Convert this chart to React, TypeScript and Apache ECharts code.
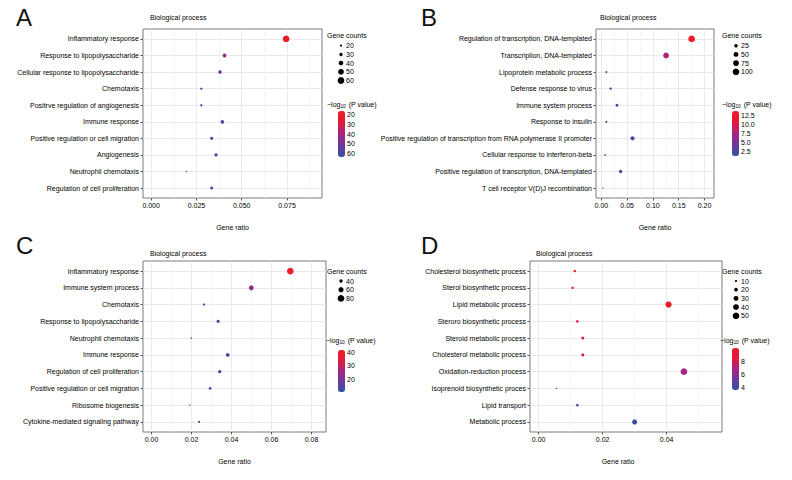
import React, { useEffect, useRef } from 'react';
import * as echarts from 'echarts';

// ---------------- data ----------------
const catsA = [
  'Inflammatory response',
  'Response to lipopolysaccharide',
  'Cellular response to lipopolysaccharide',
  'Chemotaxis',
  'Positrve regulation of angiogenesis',
  'Immune response',
  'Positive regulation or cell migration',
  'Angiogenesis',
  'Neutrophil chemotaxis',
  'Regulation of cell proliferation',
];
const ratioA = [0.0745, 0.0405, 0.038, 0.0277, 0.0277, 0.0393, 0.0334, 0.0358, 0.0194, 0.0334];
const countA = [60, 33, 31, 22, 22, 32, 27, 29, 16, 27];
const pvalA = [18, 44, 50, 56, 57, 60, 60, 62, 58, 62];

const catsB = [
  'Regulation of transcription, DNA-templated',
  'Transcriplion, DNA-templated',
  'Lipoprotein metabolic process',
  'Defense response to virus',
  'Immune system process',
  'Response to insulin',
  'Positive regulation of transcription from RNA polymerase II promoter',
  'Cellular response to interferon-beta',
  'Positive regulation of transcription, DNA-templated',
  'T cell receptor V(D)J recombination',
];
const ratioB = [0.175, 0.1255, 0.0097, 0.018, 0.0303, 0.0097, 0.0604, 0.0071, 0.0373, 0.003];
const countB = [100, 72, 6, 10, 17, 6, 34, 4, 21, 2];
const pvalB = [13.3, 7.8, 5.8, 3.5, 3.2, 3.2, 2.8, 3.3, 2.6, 2.4];

const catsC = [
  'Inflammatory response',
  'Immune system process',
  'Chemotaxis',
  'Response to lipopolysaccharide',
  'Neutrophil chemotaxis',
  'Immune response',
  'Regulation of cell proliferation',
  'Positive regulation or cell migration',
  'Ribosome biogenesis',
  'Cytokine-mediated signaling pathway',
];
const ratioC = [0.0694, 0.0499, 0.0263, 0.0333, 0.0199, 0.0381, 0.0341, 0.0293, 0.0191, 0.0238];
const countC = [80, 57, 30, 38, 23, 44, 39, 34, 22, 27];
const pvalC = [41, 24, 17, 16, 15, 16, 15, 12, 12, 11];

const catsD = [
  'Cholesterol biosynthetic process',
  'Sterol biosynthetic process',
  'Lipid metabolic process',
  'Steroro biosynthetic process',
  'Steroid metabolic process',
  'Cholesterol metabolic process',
  'Oxidation-reduction process',
  'Isoprenoid biosynthetic proces',
  'Lipid transport',
  'Metabolic process',
];
const ratioD = [0.0113, 0.0106, 0.0406, 0.0121, 0.0138, 0.0138, 0.0454, 0.0056, 0.0121, 0.030];
const countD = [12, 12, 45, 13, 15, 15, 50, 6, 13, 33];
const pvalD = [10.0, 10.0, 9.6, 8.6, 8.0, 8.0, 6.8, 4.4, 4.1, 3.9];

// axis ticks / legend breaks
const xTicksA = [0, 0.025, 0.05, 0.075];
const xMinorA = [0.0125, 0.0375, 0.0625, 0.0875];
const xTicksB = [0, 0.05, 0.1, 0.15, 0.2];
const xMinorB = [0.025, 0.075, 0.125, 0.175];
const xTicksC = [0, 0.02, 0.04, 0.06, 0.08];
const xMinorC = [0.01, 0.03, 0.05, 0.07];
const xTicksD = [0, 0.02, 0.04];
const xMinorD = [0.01, 0.03, 0.05];

const sizeBreaksA = [20, 30, 40, 50, 60];
const sizeBreaksB = [25, 50, 75, 100];
const sizeBreaksC = [40, 60, 80];
const sizeBreaksD = [10, 20, 30, 40, 50];

const colorBreaksA = [20, 30, 40, 50, 60];
const colorBreaksB = [2.5, 5, 7.5, 10, 12.5];
const colorBreaksC = [20, 30, 40];
const colorBreaksD = [4, 6, 8];

// ---------------- styling / layout ----------------
const FONT = "'Liberation Sans', Arial, sans-serif";
const FS = 7;
const TXT = '#000000';
const GRAD = ['#3352a4', '#6b389b', '#a82482', '#e01b3c', '#ef1c24'];

const panels = [
  {
    letter: 'A', cats: catsA, ratio: ratioA, count: countA, pval: pvalA,
    xTicks: xTicksA, xMinor: xMinorA, dec: 3, xmin: -0.0045, xmax: 0.0943,
    sizeBreaks: sizeBreaksA, colorBreaks: colorBreaksA, cmin: 15.8, cmax: 64.2, reverse: true, labDec: 0,
    grid: { left: 143, top: 29, width: 179, height: 169 },
    letterPos: [16, 5], titlePos: [150, 14], namePad: 0,
    sizeLeg: { x: 327, y: 35, cx: 341, cy0: 45.7 }, colLeg: { x: 327, y: 104, bx: 338, by: 111, bh: 46 },
  },
  {
    letter: 'B', cats: catsB, ratio: ratioB, count: countB, pval: pvalB,
    xTicks: xTicksB, xMinor: xMinorB, dec: 2, xmin: -0.0104, xmax: 0.2184,
    sizeBreaks: sizeBreaksB, colorBreaks: colorBreaksB, cmin: 1.4, cmax: 13.7, reverse: false, labDec: 1,
    grid: { left: 596, top: 29, width: 118, height: 169 },
    letterPos: [421, 5], titlePos: [600, 14], namePad: 0,
    sizeLeg: { x: 722, y: 35, cx: 736, cy0: 45.7 }, colLeg: { x: 722, y: 104, bx: 732, by: 111, bh: 45 },
  },
  {
    letter: 'C', cats: catsC, ratio: ratioC, count: countC, pval: pvalC,
    xTicks: xTicksC, xMinor: xMinorC, dec: 2, xmin: -0.00425, xmax: 0.08725,
    sizeBreaks: sizeBreaksC, colorBreaks: colorBreaksC, cmin: 10.5, cmax: 41.7, reverse: false, labDec: 0,
    grid: { left: 143, top: 261, width: 183, height: 171 },
    letterPos: [16, 233], titlePos: [150, 250], namePad: 0,
    sizeLeg: { x: 327, y: 271, cx: 341, cy0: 281 }, colLeg: { x: 326, y: 340, bx: 338, by: 350, bh: 42 },
  },
  {
    letter: 'D', cats: catsD, ratio: ratioD, count: countD, pval: pvalD,
    xTicks: xTicksD, xMinor: xMinorD, dec: 2, xmin: -0.0027, xmax: 0.0573,
    sizeBreaks: sizeBreaksD, colorBreaks: colorBreaksD, cmin: 3.65, cmax: 10.15, reverse: false, labDec: 0,
    grid: { left: 530, top: 261, width: 192, height: 171 },
    letterPos: [421, 233], titlePos: [536, 250], namePad: 16,
    sizeLeg: { x: 722, y: 271, cx: 736, cy0: 281 }, colLeg: { x: 720, y: 340, bx: 732, by: 348, bh: 42 },
  },
];

function makeSize(counts: number[]) {
  const lo = Math.sqrt(Math.min(...counts));
  const hi = Math.sqrt(Math.max(...counts));
  return (c: number) => 1.3 + ((Math.sqrt(c) - lo) / (hi - lo)) * 5.4;
}

function buildOption() {
  const grid: any[] = [];
  const xAxis: any[] = [];
  const yAxis: any[] = [];
  const series: any[] = [];
  const visualMap: any[] = [];
  const title: any[] = [];
  const graphic: any[] = [];
  const textBase = { fontFamily: FONT, fontSize: FS, color: TXT };
  const gtext = { fontFamily: FONT, fontSize: FS, fill: TXT, verticalAlign: 'middle' };

  panels.forEach((p, i) => {
    const sizeFn = makeSize(p.count);
    const idx = p.cats.map((_, j) => j);
    grid.push({ ...p.grid, show: true, borderColor: '#7a7a7a', borderWidth: 1, backgroundColor: '#ffffff' });
    xAxis.push({
      gridIndex: i, type: 'value', min: p.xmin, max: p.xmax, position: 'bottom',
      axisLine: { show: false, onZero: false },
      axisTick: { show: true, length: 2.5, lineStyle: { color: '#333', width: 0.8 }, customValues: p.xTicks },
      axisLabel: { customValues: p.xTicks, formatter: (v: number) => v.toFixed(p.dec), margin: 4, ...textBase },
      splitLine: { show: true, lineStyle: { color: '#e4e4e4', width: 0.8 } },
      name: 'Gene ratio', nameLocation: 'middle', nameGap: 26,
      nameTextStyle: { ...textBase, padding: [0, p.namePad, 0, 0] },
    });
    xAxis.push({
      gridIndex: i, type: 'value', min: p.xmin, max: p.xmax, position: 'top',
      axisLine: { show: false, onZero: false }, axisTick: { show: false, customValues: p.xMinor }, axisLabel: { show: false },
      splitLine: { show: true, lineStyle: { color: '#f1f1f1', width: 0.6 } },
    });
    yAxis.push({
      gridIndex: i, type: 'value', inverse: true, min: -0.6, max: 9.6,
      axisLine: { show: false, onZero: false },
      axisTick: { show: true, length: 2.5, lineStyle: { color: '#333', width: 0.8 }, customValues: idx },
      axisLabel: { customValues: idx, formatter: (v: number) => p.cats[Math.round(v)] ?? '', margin: 4, ...textBase },
      splitLine: { show: true, lineStyle: { color: '#e4e4e4', width: 0.8 } },
    });
    series.push({
      type: 'scatter', xAxisIndex: 2 * i, yAxisIndex: i, silent: true,
      data: p.cats.map((_, j) => [p.ratio[j], j, p.count[j], p.pval[j]]),
      symbolSize: (d: number[]) => sizeFn(d[2]),
      itemStyle: { opacity: 1 },
    });
    const cols = p.reverse ? [...GRAD].reverse() : GRAD;
    visualMap.push({
      type: 'continuous', seriesIndex: i, dimension: 3, min: p.cmin, max: p.cmax,
      inRange: { color: cols }, show: true, calculable: false, hoverLink: false,
      itemWidth: 7, itemHeight: p.colLeg.bh, left: p.colLeg.bx, top: p.colLeg.by, padding: 0,
      inverse: p.reverse, text: null, textStyle: { fontSize: 0 },
    });
    title.push({ text: p.letter, left: p.letterPos[0], top: p.letterPos[1], padding: 0,
      textStyle: { fontFamily: FONT, fontSize: 24, fontWeight: 'normal', color: '#111' } });
    title.push({ text: 'Biological process', left: p.titlePos[0], top: p.titlePos[1], padding: 0,
      textStyle: { ...textBase, fontWeight: 'normal' } });

    // size legend
    const L = p.sizeLeg;
    graphic.push({ type: 'text', x: L.x, y: L.y, style: { text: 'Gene counts', ...gtext } });
    p.sizeBreaks.forEach((b, k) => {
      const cy = L.cy0 + 8.7 * k;
      graphic.push({ type: 'circle', shape: { cx: L.cx, cy, r: sizeFn(b) / 2 }, style: { fill: '#000' } });
      graphic.push({ type: 'text', x: L.cx + 5, y: cy, style: { text: String(b), ...gtext } });
    });
    // colour legend
    const C = p.colLeg;
    graphic.push({
      type: 'text', x: C.x, y: C.y,
      style: {
        text: '\u2212log{s|10} (P value)', ...gtext,
        rich: { s: { fontFamily: FONT, fontSize: 4.8, fill: TXT, padding: [4, 1, 0, 0] } },
      },
    });
    p.colorBreaks.forEach((v) => {
      const frac = p.reverse ? (v - p.cmin) / (p.cmax - p.cmin) : (p.cmax - v) / (p.cmax - p.cmin);
      const y = C.by + frac * C.bh;
      graphic.push({ type: 'text', x: C.bx + 9, y, style: { text: v.toFixed(p.labDec), ...gtext } });
    });
  });

  return { animation: false, backgroundColor: '#ffffff', grid, xAxis, yAxis, series, visualMap, title, graphic };
}

export default function App() {
  const ref = useRef<HTMLDivElement>(null);
  useEffect(() => {
    if (!ref.current) return;
    const chart = echarts.init(ref.current, undefined, { renderer: 'svg' });
    chart.setOption(buildOption() as any);
    return () => chart.dispose();
  }, []);
  return <div ref={ref} style={{ position: 'absolute', left: 0, top: 0, width: 792, height: 480 }} />;
}
